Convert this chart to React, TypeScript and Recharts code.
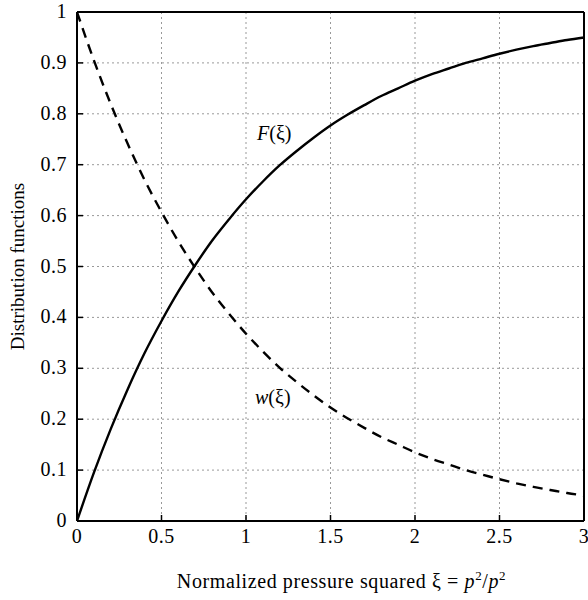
import React from 'react';
import {
  LineChart,
  Line,
  XAxis,
  YAxis,
  CartesianGrid,
  ReferenceLine,
  Label,
} from 'recharts';

const xi = [0, 0.1, 0.2, 0.3, 0.4, 0.5, 0.6, 0.7, 0.8, 0.9, 1.0, 1.1, 1.2, 1.3, 1.4, 1.5, 1.6, 1.7, 1.8, 1.9, 2.0, 2.1, 2.2, 2.3, 2.4, 2.5, 2.6, 2.7, 2.8, 2.9, 3.0];
const wValues = [1, 0.905, 0.819, 0.741, 0.67, 0.607, 0.549, 0.497, 0.449, 0.407, 0.368, 0.333, 0.301, 0.273, 0.247, 0.223, 0.202, 0.183, 0.165, 0.15, 0.135, 0.122, 0.111, 0.1, 0.091, 0.082, 0.074, 0.067, 0.061, 0.055, 0.05];
const fValues = [0, 0.095, 0.181, 0.259, 0.33, 0.393, 0.451, 0.503, 0.551, 0.593, 0.632, 0.667, 0.699, 0.727, 0.753, 0.777, 0.798, 0.817, 0.835, 0.85, 0.865, 0.878, 0.889, 0.9, 0.909, 0.918, 0.926, 0.933, 0.939, 0.945, 0.95];
const xTicks = [0, 0.5, 1, 1.5, 2, 2.5, 3];
const yTicks = [0, 0.1, 0.2, 0.3, 0.4, 0.5, 0.6, 0.7, 0.8, 0.9, 1];

const data = xi.map((x, i) => ({ x, F: fValues[i], w: wValues[i] }));

const FONT = '"Liberation Serif", "DejaVu Serif", serif';

const XTick = ({ x, y, payload }: any) => (
  <g>
    <line x1={x} x2={x} y1={y} y2={y - 6} stroke="#000" strokeWidth={1.5} />
    <text x={x} y={y + 22} textAnchor="middle" fontFamily={FONT} fontSize={20} letterSpacing={0.5} fill="#000">
      {payload.value}
    </text>
  </g>
);

const YTick = ({ x, y, payload }: any) => (
  <g>
    <line x1={x} x2={x + 6} y1={y} y2={y} stroke="#000" strokeWidth={1.5} />
    <text x={x - 10} y={y + 6} textAnchor="end" fontFamily={FONT} fontSize={20} letterSpacing={0.5} fill="#000">
      {payload.value}
    </text>
  </g>
);

const XLabel = ({ viewBox }: any) => {
  const cx = viewBox.x + viewBox.width / 2 + 11;
  return (
    <text x={cx} y={588} textAnchor="middle" fontFamily={FONT} fontSize={20} letterSpacing={0.6} fill="#000">
      Normalized pressure squared ξ ={' '}
      <tspan fontStyle="italic">p</tspan>
      <tspan dy={-8} fontSize={13}>2</tspan>
      <tspan dy={8}>/</tspan>
      <tspan fontStyle="italic">p</tspan>
      <tspan dy={-8} fontSize={13}>2</tspan>
    </text>
  );
};

export default function App() {
  return (
    <div style={{ position: 'absolute', left: 0, top: 0, width: 588, height: 600, background: '#fff' }}>
      <LineChart width={588} height={600} data={data} margin={{ top: 12, right: 4, bottom: 0, left: 27 }}>
        <CartesianGrid stroke="#999" strokeDasharray="2 3" strokeWidth={1} />
        <XAxis
          dataKey="x"
          type="number"
          domain={[0, 3]}
          ticks={xTicks}
          tickSize={0}
          tickMargin={0}
          tick={<XTick />}
          stroke="#000"
          strokeWidth={2}
          height={79}
        >
          <Label content={<XLabel />} />
        </XAxis>
        <YAxis
          type="number"
          domain={[0, 1]}
          ticks={yTicks}
          tickSize={0}
          tickMargin={0}
          tick={<YTick />}
          stroke="#000"
          strokeWidth={2}
          width={50}
        >
          <Label
            value="Distribution functions"
            angle={-90}
            position="insideLeft"
            offset={-10}
            style={{ fontFamily: FONT, fontSize: 19, fill: '#000', textAnchor: 'middle' }}
          />
        </YAxis>
        <ReferenceLine y={1} stroke="#000" strokeWidth={2} />
        <ReferenceLine x={3} stroke="#000" strokeWidth={2} />
        <Line type="monotone" dataKey="F" stroke="#000" strokeWidth={2.4} dot={false} isAnimationActive={false} />
        <Line type="monotone" dataKey="w" stroke="#000" strokeWidth={2.4} strokeDasharray="10 7" dot={false} isAnimationActive={false} />
        <text x={257} y={140} fontFamily={FONT} fontSize={20} fontStyle="italic">
          F<tspan fontStyle="normal">(ξ)</tspan>
        </text>
        <text x={255} y={404} fontFamily={FONT} fontSize={20} fontStyle="italic">
          w<tspan fontStyle="normal">(ξ)</tspan>
        </text>
      </LineChart>
    </div>
  );
}
